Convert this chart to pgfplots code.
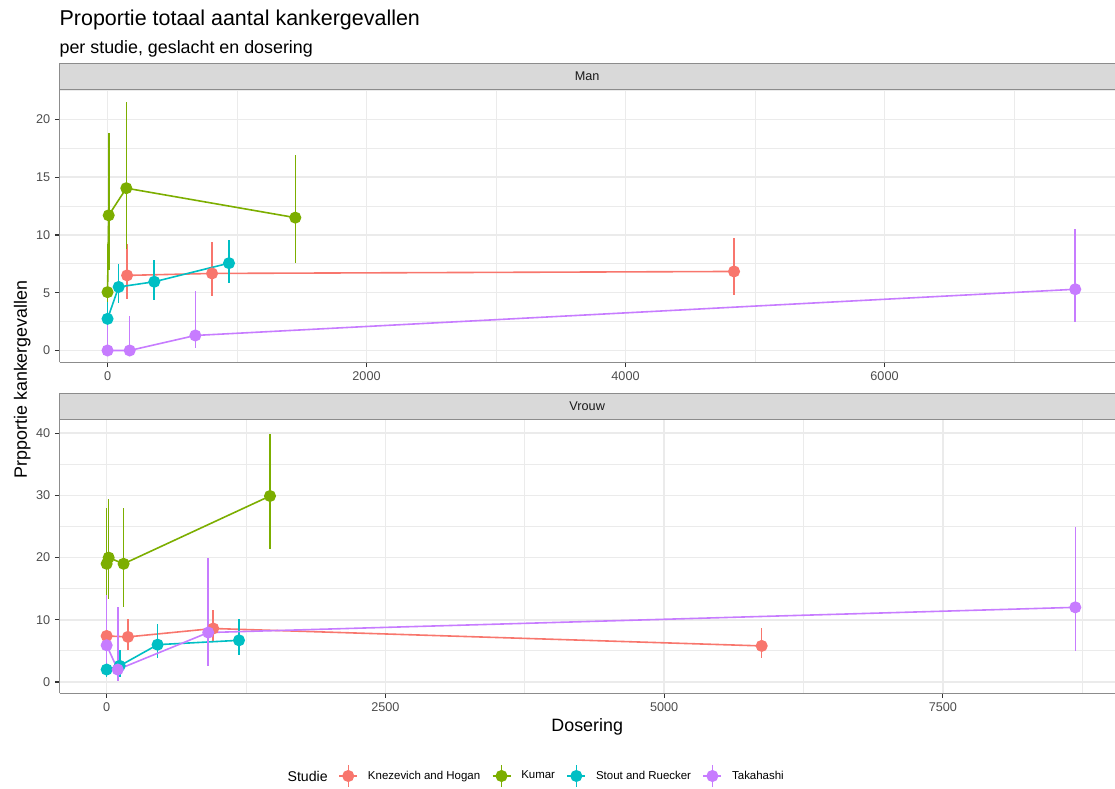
\documentclass[border=0pt]{standalone}
\usepackage{fontspec}
\setmainfont{Liberation Sans}
\usepackage{pgfplots}
\pgfplotsset{compat=1.18}
\definecolor{kred}{HTML}{F8766D}
\definecolor{kgreen}{HTML}{7CAE00}
\definecolor{kteal}{HTML}{00BFC4}
\definecolor{kpurple}{HTML}{C77CFF}
\definecolor{gridc}{HTML}{EBEBEB}
\definecolor{axc}{HTML}{8C8C8C}
\definecolor{tickc}{HTML}{333333}
\definecolor{labc}{HTML}{4D4D4D}
\definecolor{stripc}{HTML}{D9D9D9}
\definecolor{striptext}{HTML}{1A1A1A}

\pgfplotsset{
  panel/.style={
    scale only axis, width=791.625pt, height=205.5pt, anchor=south west,
    axis x line*=bottom, axis y line*=left,
    axis line style={draw=axc, line width=1.1pt, -},
    x axis line style={-}, y axis line style={-},
    grid=both,
    major grid style={draw=gridc, line width=1.1pt},
    minor grid style={draw=gridc, line width=0.6pt},
    major tick length=3.4pt, minor tick length=0pt,
    tick align=outside,
    tick style={draw=tickc, line width=0.8pt},
    tick label style={font=\fontsize{9.5}{11}\selectfont, text=labc},
    /pgf/number format/assume math mode=true,
    /pgf/number format/set thousands separator={},
    legend image code/.code={
      \draw[line width=1.1pt] (0pt,0pt) -- (13.5pt,0pt);
      \draw[line width=1.1pt] (6.75pt,-8.25pt) -- (6.75pt,8.25pt);
      \fill (6.75pt,0pt) circle (3.9pt);
    },
  },
  ser/.style={color=#1, line width=1.2pt, mark=*, mark size=3.9pt,
    mark options={fill=#1, draw=none},
    error bars/y dir=both, error bars/y explicit, error bars/error mark=none,
    error bars/error bar style={draw=#1, line width=1.2pt}},
}

\begin{document}
\begin{tikzpicture}
\useasboundingbox (0,0) rectangle (836.25pt,591.75pt);
\clip (0,0) rectangle (836.25pt,591.75pt);

% ---------- Man ----------
\begin{axis}[panel, at={(44.625pt,319.875pt)},
  xmin=-371, xmax=7780, ymin=-1.04, ymax=22.68,
  xtick={0,2000,4000,6000}, ytick={0,5,10,15,20},
  minor xtick={1000,3000,5000,7000}, minor ytick={2.5,7.5,12.5,17.5,22.5}]
\addplot[ser=kred] table[x=x,y=y,y error plus=ep,y error minus=em] {
x y ep em
151 6.50 2.76 2.00
807 6.67 2.73 1.97
4838 6.84 2.86 2.04
};
\addplot[ser=kgreen] table[x=x,y=y,y error plus=ep,y error minus=em] {
x y ep em
0 5.05 4.15 3.15
9 11.70 7.10 4.70
145 14.05 7.45 5.30
1450 11.50 5.40 3.90
};
\addplot[ser=kteal] table[x=x,y=y,y error plus=ep,y error minus=em] {
x y ep em
0 2.74 1.50 1.10
86 5.50 1.95 1.40
361 5.95 1.85 1.55
938 7.56 2.04 1.70
};
\addplot[ser=kpurple] table[x=x,y=y,y error plus=ep,y error minus=em] {
x y ep em
0 0.00 2.30 0.00
171 0.00 3.00 0.00
678 1.30 3.87 1.07
7473 5.30 5.20 2.80
};
\end{axis}

% ---------- Vrouw ----------
\begin{axis}[panel, at={(44.625pt,71.8125pt)},
  xmin=-423, xmax=9044, ymin=-1.81, ymax=42.24,
  xtick={0,2500,5000,7500}, ytick={0,10,20,30,40},
  minor xtick={1250,3750,6250,8750}, minor ytick={5,15,25,35},
  legend style={at={(0.2641,-0.302)}, anchor=west, draw=none, fill=none,
    inner sep=0pt, legend columns=-1,
    font=\fontsize{8.6}{10}\selectfont,
    nodes={inner sep=0pt, text=black},
    /tikz/every odd column/.append style={column sep=7.5pt},
    /tikz/every even column/.append style={column sep=8.7pt}}]
\addplot[ser=kred] table[x=x,y=y,y error plus=ep,y error minus=em] {
x y ep em
0 7.40 2.00 2.00
191 7.25 2.85 2.15
956 8.60 3.00 2.25
5875 5.80 2.80 1.90
};
\addlegendentry{Knezevich and Hogan}
\addplot[ser=kgreen] table[x=x,y=y,y error plus=ep,y error minus=em] {
x y ep em
0 19.0 9.0 6.1
18 20.0 9.4 6.7
152 19.0 9.0 7.0
1465 29.9 10.0 8.5
};
\addlegendentry{Kumar}
\addplot[ser=kteal] table[x=x,y=y,y error plus=ep,y error minus=em] {
x y ep em
0 2.0 1.5 1.2
117 2.6 2.6 1.8
457 6.0 3.4 2.2
1187 6.7 3.5 2.4
};
\addlegendentry{Stout and Ruecker}
\addplot[ser=kpurple] table[x=x,y=y,y error plus=ep,y error minus=em] {
x y ep em
0 5.9 8.1 3.9
99 2.0 10.0 1.8
911 7.95 12.05 5.35
8688 12.0 12.9 7.0
};
\addlegendentry{Takahashi}
\end{axis}

% strips
\fill[stripc] (44.625pt,524.625pt) rectangle (840pt,544.125pt);
\draw[axc, line width=1.1pt] (44.625pt,524.625pt) rectangle (840pt,544.125pt);
\node[font=\fontsize{9.5}{11}\selectfont, text=striptext] at (440.4pt,534.4pt) {Man};
\fill[stripc] (44.625pt,277.3125pt) rectangle (840pt,296.8125pt);
\draw[axc, line width=1.1pt] (44.625pt,277.3125pt) rectangle (840pt,296.8125pt);
\node[font=\fontsize{9.5}{11}\selectfont, text=striptext] at (440.4pt,287.06pt) {Vrouw};

% titles
\node[anchor=base west, inner sep=0pt, font=\fontsize{16.1}{19}\selectfont] at (44.5pt,572.5pt) {Proportie totaal aantal kankergevallen};
\node[anchor=base west, inner sep=0pt, font=\fontsize{13.4}{16}\selectfont] at (44.5pt,551.8pt) {per studie, geslacht en dosering};
\node[anchor=base, inner sep=0pt, font=\fontsize{13.4}{16}\selectfont] at (440.4pt,43pt) {Dosering};
\node[anchor=base, rotate=90, inner sep=0pt, font=\fontsize{13.4}{16}\selectfont] at (20.25pt,307.2pt) {Prpportie kankergevallen};
\node[anchor=west, inner sep=0pt, font=\fontsize{10.6}{12}\selectfont] at (215.5pt,9.75pt) {Studie};
\end{tikzpicture}
\end{document}
